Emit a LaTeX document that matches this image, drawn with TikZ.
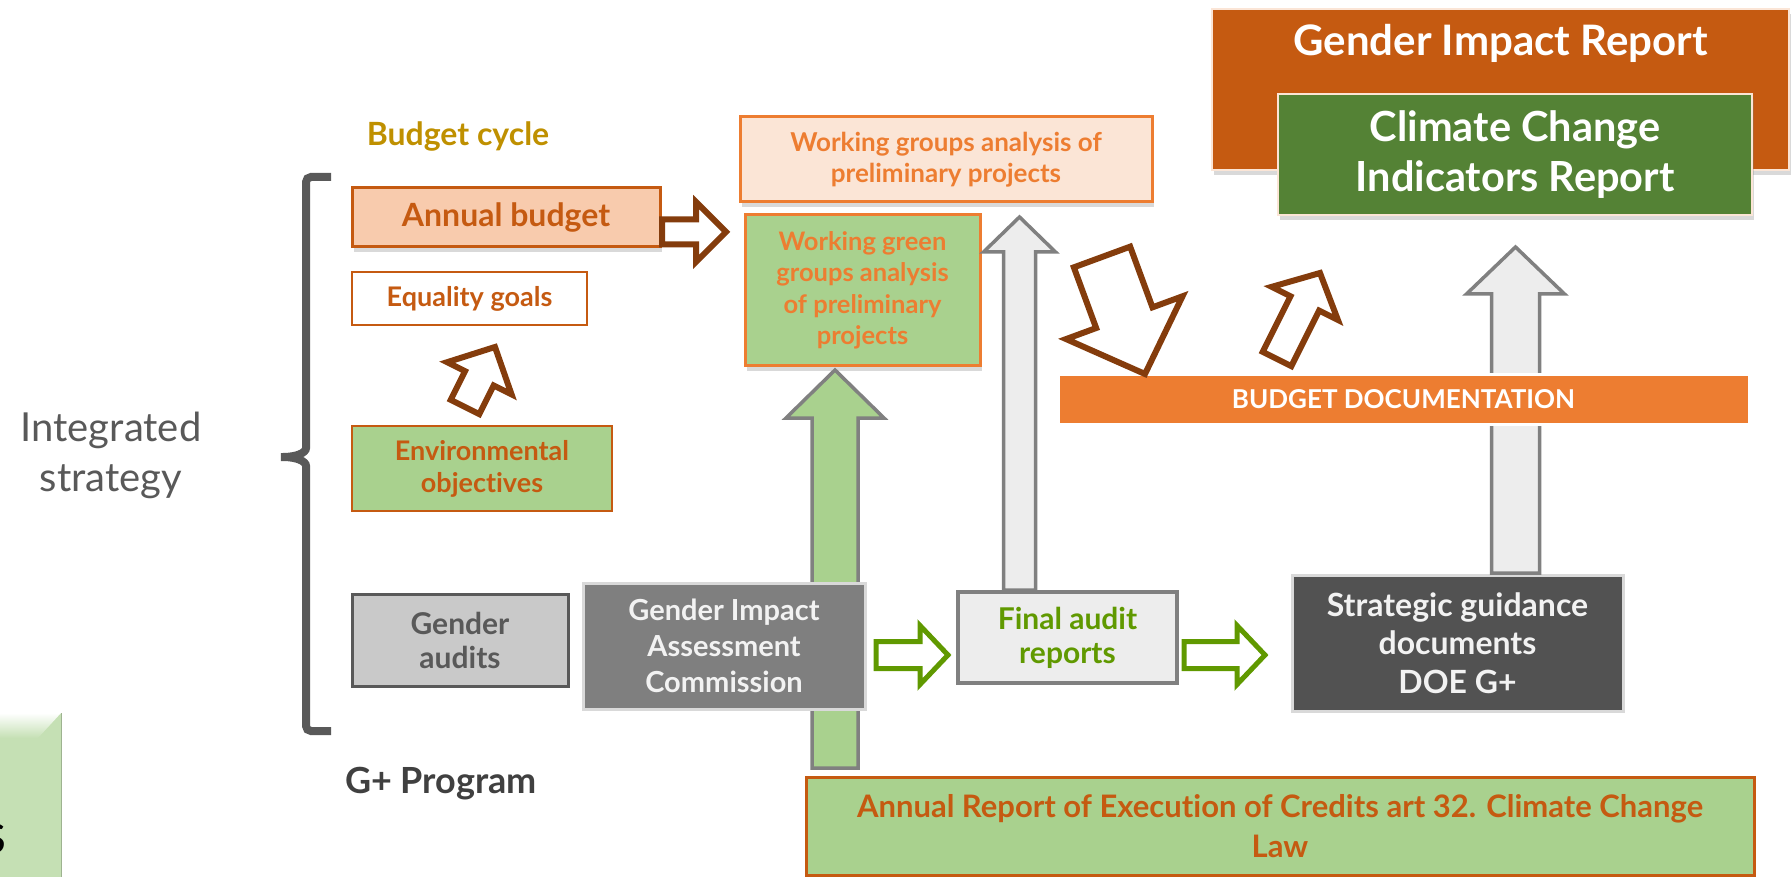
\documentclass[tikz,border=0pt]{standalone}
\RequirePackage{fontspec}
\setmainfont{Lato}[Ligatures=NoCommon]
\RequirePackage{tikz}
\RequirePackage{tkz-euclide}
\usetikzlibrary{calc}
\usetikzlibrary{shadows}

\definecolor{rustorange}{RGB}{197,90,17}
\definecolor{lightorange}{RGB}{237,125,49}
\definecolor{peach}{RGB}{248,203,173}
\definecolor{palepeach}{RGB}{251,229,214}
\definecolor{leafgreen}{RGB}{169,209,142}
\definecolor{mossgreen}{RGB}{84,130,53}
\definecolor{pastgreen}{RGB}{197,224,180}
\definecolor{rustbrown}{RGB}{132,60,12}
\definecolor{auditgreen}{RGB}{96,153,0}
\definecolor{cyclegold}{RGB}{191,144,0}
\definecolor{bracegrey}{RGB}{89,89,89}
\definecolor{inkgrey}{RGB}{64,64,64}
\definecolor{midgrey}{RGB}{128,128,128}
\definecolor{softgrey}{RGB}{201,201,201}
\definecolor{paper}{RGB}{237,237,237}
\definecolor{rimgrey}{RGB}{217,217,217}
\definecolor{slate}{RGB}{82,82,82}
\definecolor{snow}{RGB}{242,242,242}

% block arrow: [style]{from}{to}{shaft half width}{head half width}{head length}
\newcommand{\blockarrow}[6][]{%
  \coordinate (hb) at ($(#3)!#6!(#2)$);
  \draw[#1] ($(#2)!#4!90:(#3)$) -- ($(hb)!#4!90:(#3)$) -- ($(hb)!#5!90:(#3)$)
    -- (#3) -- ($(hb)!#5!-90:(#3)$) -- ($(hb)!#4!-90:(#3)$)
    -- ($(#2)!#4!-90:(#3)$) -- cycle;
}

\begin{document}
\begin{tikzpicture}[x=1pt,y=-1pt,
    box/.style={rectangle,line width=3pt,inner sep=2pt,align=center},
    shadowed/.style={drop shadow={shadow xshift=2pt,shadow yshift=-5pt,opacity=0.3}},
    brownarrow/.style={draw=rustbrown,fill=white,line width=6pt},
    greenarrow/.style={draw=auditgreen,fill=white,line width=5pt},
    greyarrow/.style={draw=midgrey,fill=paper,line width=3.5pt},
    brace/.style={draw=bracegrey,line width=8pt,rounded corners=5pt}]

    \useasboundingbox (0,0) rectangle (1792,877);

    % cut-off box at the bottom left
    \fill[pastgreen] (0,713) rectangle (61,877);
    \shade[top color=white,bottom color=pastgreen] (0,713) -- (61,713) -- (38,738) -- (0,738) -- cycle;
    \draw[pastgreen!80!black,line width=1pt] (61,713) -- (61,877);
    \node[anchor=base east,inner sep=0pt,font=\fontsize{58}{66}\selectfont] (cut) at (7,853) {s};

    \node[align=center,text=bracegrey,font=\fontsize{40}{50}\selectfont] (strategy) at (111,455) {Integrated\\strategy};

    \draw[brace] (331,177) -- (306,177) -- (306,443)
        .. controls (306,453) and (296,457) .. (278,457)
        .. controls (296,457) and (306,461) .. (306,471) -- (306,731) -- (331,731);

    % budget cycle
    \node[text=cyclegold,font=\bfseries\fontsize{32}{36}\selectfont] (cycle) at (458,137) {Budget cycle};
    \node[box,shadowed,draw=rustorange,fill=peach,text=rustorange,minimum width=308,minimum height=59,
        font=\bfseries\fontsize{32}{38}\selectfont] (annual) at (506,217.5) {Annual budget};
    \node[box,draw=rustorange,fill=white,text=rustorange,line width=2.5pt,minimum width=235,minimum height=53,
        font=\bfseries\fontsize{27}{32}\selectfont] (equality) at (469.5,298.5) {Equality goals};
    \node[box,draw=rustorange,fill=leafgreen,text=rustorange,line width=2pt,minimum width=260,minimum height=85,
        font=\bfseries\fontsize{27}{32}\selectfont] (envobj) at (482,468.5) {Environmental\\objectives};

    % G+ program
    \node[box,draw=bracegrey,fill=softgrey,text=bracegrey,minimum width=216,minimum height=92,
        font=\bfseries\fontsize{30}{34}\selectfont] (audits) at (460,640) {Gender\\audits};
    \node[text=inkgrey,font=\bfseries\fontsize{36}{40}\selectfont] (gplus) at (441,784) {G+ Program};

    \tkzDefPoint(835,768){GA}
    \tkzDefPoint(835,370){GB}
    \blockarrow[greyarrow,fill=leafgreen]{GA}{GB}{23pt}{49pt}{48pt}

    \node[box,draw=rimgrey,fill=midgrey!99!black,text=snow,minimum width=282,minimum height=126,
        font=\bfseries\fontsize{29}{36}\selectfont] (giac) at (724,646) {Gender Impact\\Assessment\\Commission};
    \node[box,draw=midgrey,fill=paper,text=auditgreen,line width=3.5pt,minimum width=219,minimum height=91,
        font=\bfseries\fontsize{30}{34}\selectfont] (final) at (1067.5,637.5) {Final audit\\reports};
    \node[box,draw=rimgrey,fill=slate,text=snow,minimum width=331,minimum height=136,
        font=\bfseries\fontsize{32}{38.5}\selectfont] (strategic) at (1457.5,643) {Strategic guidance\\documents\\DOE G+};

    \tkzDefPoint(876,655){FA}
    \tkzDefPoint(948,655){FB}
    \blockarrow[greenarrow]{FA}{FB}{13.5pt}{29.5pt}{28pt}
    \tkzDefPoint(1184,655){SA}
    \tkzDefPoint(1265,655){SB}
    \blockarrow[greenarrow]{SA}{SB}{13.5pt}{29.5pt}{28pt}

    % working groups
    \node[box,shadowed,draw=lightorange,fill=leafgreen,text=lightorange,minimum width=235,minimum height=151,
        font=\bfseries\fontsize{25.5}{31.5}\selectfont] (wgreen) at (862.5,290.5) {Working green\\groups analysis\\of preliminary\\projects};
    \node[box,shadowed,draw=lightorange,fill=palepeach,text=lightorange,minimum width=412,minimum height=85,
        font=\bfseries\fontsize{26}{31}\selectfont] (wgroups) at (946,159.5) {Working groups analysis of\\preliminary projects};

    \tkzDefPoint(662,232){AA}
    \tkzDefPoint(726,232){AB}
    \blockarrow[brownarrow]{AA}{AB}{12.5pt}{30pt}{30pt}
    \tkzDefPoint(465,407){EA}
    \tkzDefPoint(495,347){EB}
    \blockarrow[brownarrow]{EA}{EB}{16pt}{36pt}{35pt}

    \tkzDefPoint(1019.5,590){MA}
    \tkzDefPoint(1019.5,217){MB}
    \blockarrow[greyarrow]{MA}{MB}{16pt}{36pt}{35pt}
    \tkzDefPoint(1515.5,573){RA}
    \tkzDefPoint(1515.5,247){RB}
    \blockarrow[greyarrow]{RA}{RB}{24pt}{49pt}{47pt}

    % budget documentation
    \node[box,draw=white,fill=lightorange,text=white,minimum width=691,minimum height=49,
        font=\bfseries\fontsize{26}{30}\selectfont] (budgetdoc) at (1403.5,399.5) {BUDGET DOCUMENTATION};

    \tkzDefPoint(1102,257){DA}
    \tkzDefPoint(1145,374){DB}
    \blockarrow[brownarrow]{DA}{DB}{30pt}{62pt}{60pt}
    \tkzDefPoint(1277,359){UA}
    \tkzDefPoint(1320,273){UB}
    \blockarrow[brownarrow]{UA}{UB}{16pt}{37pt}{34pt}

    % reports
    \node[box,shadowed,draw=palepeach,fill=rustorange,line width=2pt,minimum width=577,minimum height=161] (gir) at (1500.5,89.5) {};
    \node[text=white,font=\bfseries\fontsize{42}{50}\selectfont] (girtext) at (1500.5,43) {Gender Impact Report};
    \node[box,shadowed,draw=palepeach,fill=mossgreen,text=white,line width=2.5pt,minimum width=474,minimum height=121,
        font=\bfseries\fontsize{41.5}{50}\selectfont] (climate) at (1515,154.5) {Climate Change\\Indicators Report};

    \node[box,shadowed,draw=rustorange,fill=leafgreen,text=rustorange,minimum width=948,minimum height=98,
        font=\bfseries\fontsize{31}{40}\selectfont] (annualreport) at (1280,826) {Annual Report of Execution of Credits art 32. Climate Change\\Law};
\end{tikzpicture}
\end{document}
